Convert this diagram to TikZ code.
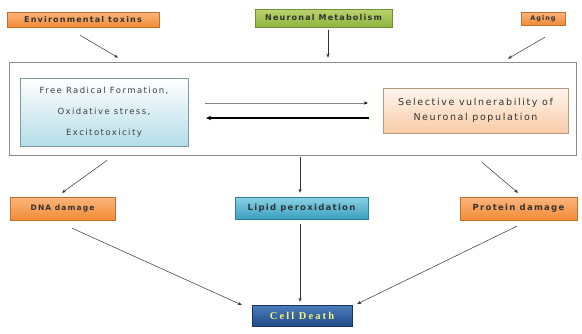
\documentclass[tikz,border=0pt]{standalone}
\usepackage{fontspec}
\setmainfont{DejaVu Sans}
\newfontfamily\lblfont[LetterSpace=15]{DejaVu Sans}
\newfontfamily\innerfont[LetterSpace=17]{DejaVu Sans}
\newfontfamily\cdfont[LetterSpace=20]{Liberation Serif}
\usetikzlibrary{arrows.meta,shadows}
\definecolor{orTop}{HTML}{FBB57C}
\definecolor{orBot}{HTML}{F28B36}
\definecolor{grTop}{HTML}{B9D56E}
\definecolor{grBot}{HTML}{8DB33E}
\definecolor{bluTop}{HTML}{8AD3E6}
\definecolor{bluBot}{HTML}{3A9FBE}
\definecolor{cdTop}{HTML}{4C7DBD}
\definecolor{cdBot}{HTML}{1E4C88}
\definecolor{cdText}{HTML}{F4F27C}
\definecolor{frTop}{HTML}{FFFFFF}
\definecolor{frBot}{HTML}{B4DDE8}
\definecolor{svTop}{HTML}{FFF6EE}
\definecolor{svBot}{HTML}{F8CBA6}
\begin{document}
\begin{tikzpicture}[x=1pt,y=-1pt,
  box/.style={rectangle, inner sep=0pt, font=\lblfont\bfseries\fontsize{8}{9}\selectfont, text=black!80,
    drop shadow={shadow xshift=1pt, shadow yshift=-1.2pt, fill=black!35, opacity=0.6}},
  orangebox/.style={box, top color=orTop, bottom color=orBot, draw=orBot!80!black, line width=0.3pt},
  greenbox/.style={box, top color=grTop, bottom color=grBot, draw=grBot!80!black, line width=0.3pt},
  bluebox/.style={box, top color=bluTop, bottom color=bluBot, draw=bluBot!80!black, line width=0.3pt},
  frbox/.style={box, top color=frTop, bottom color=frBot, draw=frBot!70!black, line width=0.3pt, text=black!75, align=center},
  svbox/.style={box, top color=svTop, bottom color=svBot, draw=svBot!75!black, line width=0.3pt, text=black!80, align=center},
  cdbox/.style={box, top color=cdTop, bottom color=cdBot, draw=cdBot!70!black, line width=0.3pt, text=cdText, font=\cdfont\bfseries\fontsize{10.5}{12}\selectfont},
  framebox/.style={rectangle, draw=black!45, line width=0.7pt, inner sep=0pt},
  arr/.style={draw=black!80, line width=0.5pt, -{Stealth[length=4pt,width=3.2pt]}},
  thinarr/.style={draw=black!50, line width=0.5pt, -{Stealth[length=4pt,width=3.2pt,color=black]}},
  thickarr/.style={draw=black, line width=1.2pt, -{Stealth[length=5pt,width=4.5pt]}}
]
\useasboundingbox (0,0) rectangle (582,333);

% top row
\node[orangebox, minimum width=152pt, minimum height=15pt] (env) at (83,19.5) {Environmental toxins};
\node[greenbox, minimum width=137pt, minimum height=18pt] (neu) at (323.5,18) {Neuronal Metabolism};
\node[orangebox, minimum width=44pt, minimum height=13pt, font=\lblfont\bfseries\fontsize{6.5}{7}\selectfont] (age) at (543,18.5) {Aging};

% frame and inner boxes
\node[framebox, minimum width=567pt, minimum height=93pt] (frame) at (292.5,108.5) {};
\node[frbox, minimum width=168pt, minimum height=68pt, font=\innerfont\fontsize{8.5}{21}\selectfont] (fr) at (104,112)
  {Free Radical Formation,\\Oxidative stress,\\Excitotoxicity};
\node[svbox, minimum width=185pt, minimum height=45pt, font=\innerfont\fontsize{9.5}{15.5}\selectfont] (sv) at (475.5,110.5)
  {Selective vulnerability of\\Neuronal population};

% bottom row
\node[orangebox, minimum width=105pt, minimum height=23pt, font=\lblfont\bfseries\fontsize{7.5}{9}\selectfont] (dna) at (62.5,208.5) {DNA damage};
\node[bluebox, minimum width=133pt, minimum height=22pt, font=\lblfont\bfseries\fontsize{8.5}{9}\selectfont] (lip) at (301.5,208) {Lipid peroxidation};
\node[orangebox, minimum width=117pt, minimum height=23pt, font=\lblfont\bfseries\fontsize{8.5}{9}\selectfont] (pro) at (518.5,208.5) {Protein damage};
\node[cdbox, minimum width=100pt, minimum height=21pt] (cd) at (302,315.5) {Cell Death};

% arrows into frame
\draw[arr] ([shift={(-3,8)}]env.south) -- ([shift={(-174.5,-4)}]frame.north);
\draw[arr] ([shift={(4.5,3)}]neu.south) -- ([shift={(35.5,-4)}]frame.north);
\draw[arr] ([shift={(2,12)}]age.south) -- ([shift={(215.5,-3)}]frame.north);

% arrows between inner boxes
\draw[thinarr] ([shift={(17,-9)}]fr.east) -- ([shift={(-15,-7.5)}]sv.west);
\draw[thickarr] ([shift={(-14,7.5)}]sv.west) -- ([shift={(18,6)}]fr.east);

% arrows out of frame
\draw[arr] ([shift={(-185.5,5)}]frame.south) -- ([shift={(-0.5,-4)}]dna.north);
\draw[arr] ([shift={(7.5,2)}]frame.south) -- ([shift={(-1.5,-4)}]lip.north);
\draw[arr] ([shift={(189.5,7)}]frame.south) -- ([shift={(-0.5,-4)}]pro.north);

% arrows to cell death
\draw[arr] ([shift={(9.5,8)}]dna.south) -- ([shift={(-10,-10.5)}]cd.west);
\draw[arr] ([shift={(-1.5,5)}]lip.south) -- ([shift={(-2,-3)}]cd.north);
\draw[arr] ([shift={(-1.5,6)}]pro.south) -- ([shift={(5,-11.5)}]cd.east);
\end{tikzpicture}
\end{document}
